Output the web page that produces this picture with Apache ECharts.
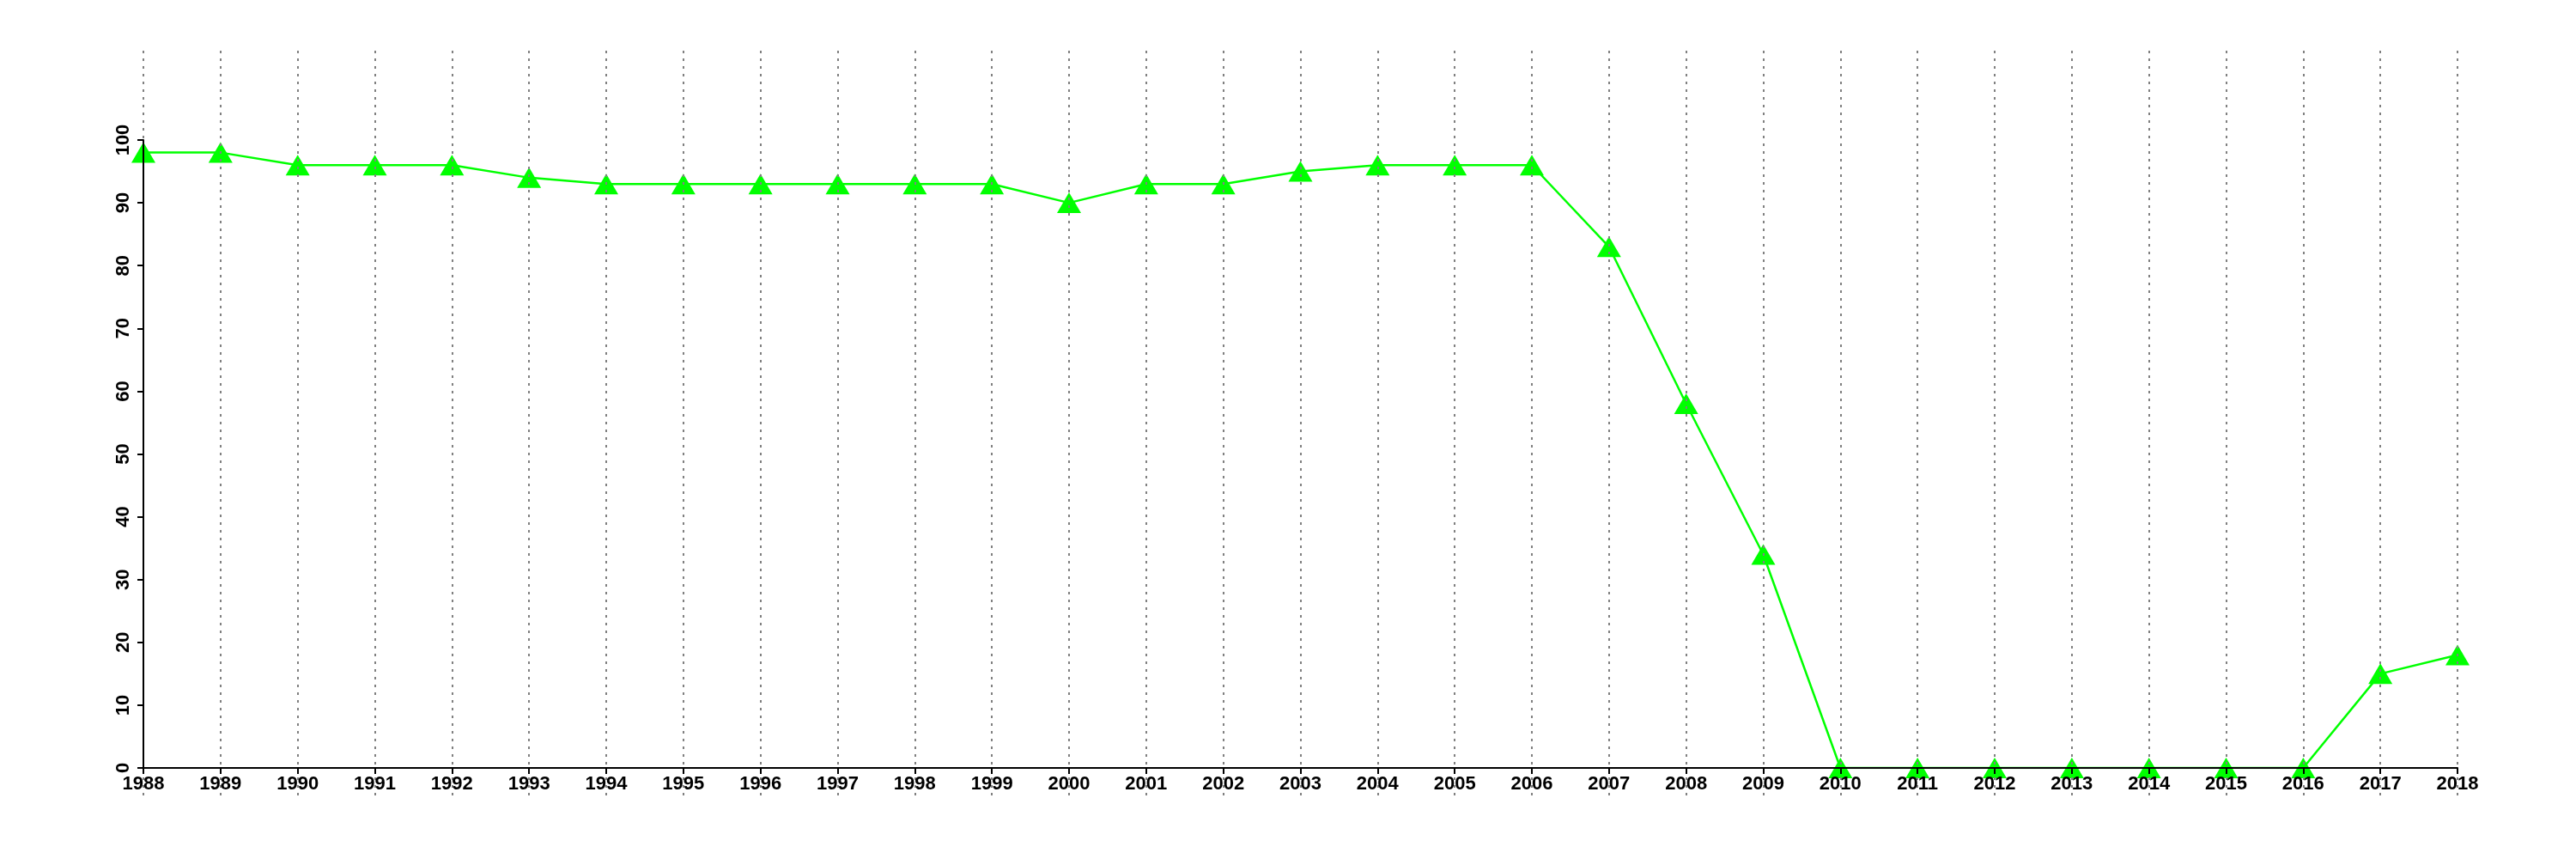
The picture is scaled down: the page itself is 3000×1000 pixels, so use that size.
<!DOCTYPE html>
<html>
<head>
<meta charset="utf-8">
<script src="https://cdn.jsdelivr.net/npm/echarts@6/dist/echarts.min.js"></script>
<style>html,body{margin:0;padding:0;background:#fff;}#c{width:3000px;height:1000px;}</style>
</head>
<body>
<div id="c"></div>
<script>
const years = ['1988','1989','1990','1991','1992','1993','1994','1995','1996','1997','1998','1999','2000','2001','2002','2003','2004','2005','2006','2007','2008','2009','2010','2011','2012','2013','2014','2015','2016','2017','2018'];
const values = [98,98,96,96,96,94,93,93,93,93,93,93,90,93,93,95,96,96,96,83,58,34,0,0,0,0,0,0,0,15,18];
const yTicks = [0,10,20,30,40,50,60,70,80,90,100];

const chart = echarts.init(document.getElementById('c'), null, {renderer:'canvas'});
const font = {fontFamily:'Liberation Sans', fontWeight:'bold', fontSize:22, color:'#000'};
chart.setOption({
  animation:false,
  backgroundColor:'#fff',
  grid:[
    {left:167, right:138, top:163, bottom:106},
    {left:167, right:138, top:59, bottom:73}
  ],
  xAxis:[
    {type:'category', gridIndex:0, data:years, boundaryGap:false, z:10,
     axisLine:{show:true, lineStyle:{color:'#000', width:2}},
     axisTick:{show:true, length:7, lineStyle:{color:'#000', width:2}},
     axisLabel:Object.assign({margin:8, interval:0}, font),
     splitLine:{show:false}},
    {type:'category', gridIndex:1, data:years, boundaryGap:false, z:9,
     axisLine:{show:false}, axisTick:{show:false}, axisLabel:{show:false},
     splitLine:{show:true, interval:0, lineStyle:{color:'#808080', width:2, type:[3,6]}}}
  ],
  yAxis:[
    {type:'value', gridIndex:0, min:yTicks[0], max:yTicks[yTicks.length-1], interval:10, z:10,
     axisLine:{show:true, lineStyle:{color:'#000', width:2}},
     axisTick:{show:true, length:7, lineStyle:{color:'#000', width:2}},
     axisLabel:Object.assign({margin:12, rotate:90}, font),
     splitLine:{show:false}},
    {type:'value', gridIndex:1, show:false, min:0, max:1}
  ],
  series:[{
    type:'line', xAxisIndex:0, yAxisIndex:0, data:values,
    symbol:'triangle', symbolSize:[28,24],
    lineStyle:{color:'#00ff00', width:2.5},
    itemStyle:{color:'#00ff00'},
    z:2
  }]
});
</script>
</body>
</html>
